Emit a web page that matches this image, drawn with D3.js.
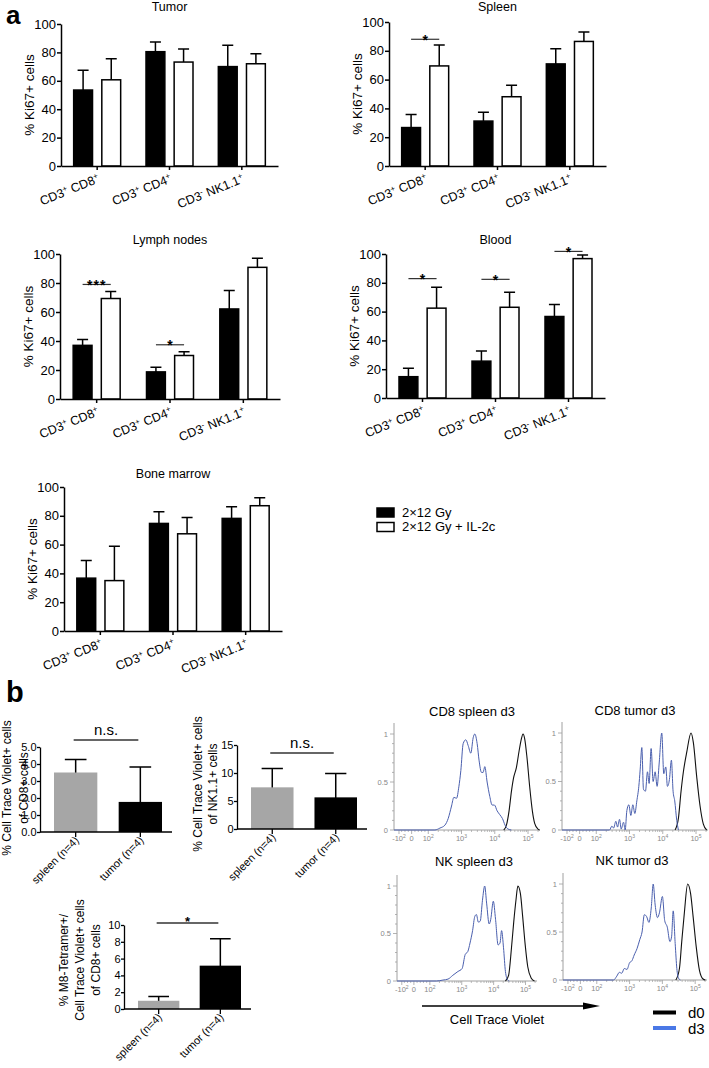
<!DOCTYPE html>
<html>
<head>
<meta charset="utf-8">
<script src="https://cdn.jsdelivr.net/npm/d3@7/dist/d3.min.js"></script>
<style>
html,body{margin:0;padding:0;background:#fff;}
svg{display:block;font-family:"Liberation Sans",Arial,Helvetica,sans-serif;}
</style>
</head>
<body>
<svg id="fig" width="709" height="1068"></svg>
<script>
// ---------------- DATA ----------------
const categories = ["CD3+ CD8+", "CD3+ CD4+", "CD3- NK1.1+"];
const treatments = ["2×12 Gy", "2×12 Gy + IL-2c"];
const ki67Ticks = [0, 20, 40, 60, 80, 100];

const tumorIR = [53.5, 80.5, 70.0];
const tumorIRErr = [14.0, 6.8, 15.0];
const tumorIL2 = [60.7, 73.2, 72.0];
const tumorIL2Err = [14.8, 9.2, 7.0];
const tumorSig = [];

const spleenIR = [26.7, 31.2, 70.9];
const spleenIRErr = [9.1, 6.2, 10.5];
const spleenIL2 = [69.5, 48.1, 86.5];
const spleenIL2Err = [14.5, 7.9, 6.5];
const spleenSig = [[0, 88, "*"]];

const lnIR = [37.0, 18.7, 62.1];
const lnIRErr = [4.1, 3.2, 12.7];
const lnIL2 = [69.3, 30.0, 90.8];
const lnIL2Err = [4.8, 2.6, 6.2];
const lnSig = [[0, 79, "***"], [1, 37.4, "*"]];

const bloodIR = [14.8, 25.6, 56.6];
const bloodIRErr = [5.8, 7.0, 8.3];
const bloodIL2 = [62.4, 63.0, 96.8];
const bloodIL2Err = [14.5, 10.4, 2.5];
const bloodSig = [[0, 82.9, "*"], [1, 82.4, "*"], [2, 101.8, "*"]];

const bmIR = [36.7, 74.7, 78.2];
const bmIRErr = [12.3, 8.1, 8.1];
const bmIL2 = [35.0, 67.5, 87.0];
const bmIL2Err = [23.9, 11.4, 5.6];
const bmSig = [];

const sites = ["spleen (n=4)", "tumor (n=4)"];
const ctvCD8 = [3.5, 1.77];
const ctvCD8Err = [0.76, 2.06];
const ctvCD8Ticks = [0, 1, 2, 3, 4, 5];
const ctvNK = [7.44, 5.65];
const ctvNKErr = [3.36, 4.25];
const ctvNKTicks = [0, 5, 10, 15];
const tetCD8 = [0.98, 5.16];
const tetCD8Err = [0.52, 3.19];
const tetCD8Ticks = [0, 2, 4, 6, 8, 10];

// histograms: [log10 fluorescence, normalized count]
const histTickPos = [1.12, 1.5, 2, 3, 4, 5];
const histTickLabels = ["-10^2", "0", "10^2", "10^3", "10^4", "10^5"];
const histYTicks = [0, 0.5, 1];
const histYLabels = ["0", "0.5", "1"];

const cd8SpleenD3 = [[0.97,0],[2.2,0],[2.35,0.02],[2.5,0.05],[2.6,0.12],[2.7,0.25],[2.77,0.34],[2.85,0.33],[2.92,0.45],[2.98,0.62],[3.05,0.9],[3.13,0.94],[3.2,0.88],[3.28,0.8],[3.35,0.96],[3.4,1.0],[3.47,0.9],[3.53,0.72],[3.6,0.6],[3.65,0.6],[3.7,0.66],[3.77,0.5],[3.85,0.35],[3.92,0.26],[3.99,0.26],[4.07,0.2],[4.15,0.16],[4.23,0.12],[4.31,0.05],[4.4,0.01],[4.5,0]];
const cd8SpleenD0 = [[4.27,0],[4.35,0.05],[4.43,0.2],[4.5,0.4],[4.57,0.55],[4.65,0.65],[4.73,0.82],[4.8,0.95],[4.85,1.0],[4.9,0.95],[4.97,0.75],[5.05,0.45],[5.13,0.2],[5.2,0.07],[5.3,0.01],[5.35,0]];
const cd8TumorD3 = [[0.97,0],[2.4,0],[2.47,0.04],[2.52,0.02],[2.59,0.09],[2.64,0.03],[2.7,0.11],[2.75,0.01],[2.82,0.08],[2.87,0.0],[2.92,0.2],[2.98,0.26],[3.04,0.15],[3.1,0.26],[3.16,0.17],[3.22,0.3],[3.28,0.45],[3.32,0.62],[3.37,0.85],[3.42,0.42],[3.48,0.4],[3.54,0.6],[3.59,0.48],[3.65,0.84],[3.71,0.5],[3.77,0.6],[3.83,0.45],[3.89,0.68],[3.97,1.0],[4.03,0.58],[4.09,0.65],[4.14,0.45],[4.2,0.52],[4.26,0.72],[4.31,0.4],[4.36,0.3],[4.42,0.1],[4.47,0]];
const cd8TumorD0 = [[4.37,0],[4.47,0.12],[4.55,0.4],[4.62,0.6],[4.72,0.8],[4.85,1.0],[4.92,0.9],[5.02,0.55],[5.12,0.25],[5.22,0.06],[5.32,0]];
const nkSpleenD3 = [[0.97,0],[2.21,0],[2.41,0.01],[2.57,0.02],[2.72,0.06],[2.88,0.1],[3.01,0.13],[3.11,0.28],[3.19,0.31],[3.26,0.4],[3.34,0.53],[3.41,0.68],[3.46,0.7],[3.52,0.62],[3.58,0.63],[3.65,0.85],[3.72,1.0],[3.78,0.82],[3.86,0.6],[3.91,0.65],[3.99,0.84],[4.06,0.65],[4.14,0.38],[4.2,0.4],[4.25,0.53],[4.31,0.35],[4.37,0.1],[4.44,0.01],[4.49,0]];
const nkSpleenD0 = [[4.37,0],[4.47,0.06],[4.56,0.35],[4.63,0.62],[4.7,0.85],[4.76,1.0],[4.84,0.92],[4.91,0.68],[4.99,0.38],[5.07,0.15],[5.18,0.03],[5.28,0]];
const nkTumorD3 = [[0.97,0],[2.51,0],[2.61,0.04],[2.69,0.08],[2.76,0.07],[2.84,0.12],[2.92,0.11],[3.0,0.18],[3.07,0.2],[3.14,0.26],[3.23,0.33],[3.31,0.42],[3.38,0.5],[3.45,0.68],[3.52,0.66],[3.59,0.6],[3.66,0.75],[3.72,1.0],[3.78,0.78],[3.85,0.65],[3.91,0.7],[4.0,0.87],[4.07,0.62],[4.15,0.55],[4.23,0.4],[4.28,0.45],[4.33,0.72],[4.39,0.38],[4.44,0.12],[4.49,0.02],[4.55,0]];
const nkTumorD0 = [[4.41,0],[4.52,0.12],[4.59,0.4],[4.67,0.7],[4.77,1.0],[4.86,0.9],[4.94,0.65],[5.03,0.35],[5.13,0.1],[5.24,0.01],[5.31,0]];
const histLegend = ["d0", "d3"];

// ---------------- DRAWING ----------------
const svg = d3.select("#fig");

function addSuperText(textSel, str, supSize, shift) {
  const parts = str.split(/([+\-])/).filter(s => s !== "");
  let up = false;
  parts.forEach(p => {
    if (p === "+" || p === "-") {
      textSel.append("tspan").attr("font-size", supSize).attr("dy", -shift).text(p);
      up = true;
    } else {
      const t = textSel.append("tspan").text(p);
      if (up) { t.attr("dy", shift); up = false; }
    }
  });
}

function styleAxis(g, w, fs, col) {
  g.attr("font-size", fs).attr("font-family", "Liberation Sans, Arial, sans-serif");
  g.select(".domain").attr("stroke", col).attr("stroke-width", w);
  g.selectAll(".tick line").attr("stroke", col).attr("stroke-width", w);
  g.selectAll(".tick text").attr("font-size", fs).attr("fill", "#000");
}

// ---- panel a ----
const kiPanels = [
  {title: "Tumor", ir: tumorIR, irErr: tumorIRErr, il2: tumorIL2, il2Err: tumorIL2Err, sig: tumorSig, x0: 61, x1: 278, y0: 166, y100: 24, ty: 10.5},
  {title: "Spleen", ir: spleenIR, irErr: spleenIRErr, il2: spleenIL2, il2Err: spleenIL2Err, sig: spleenSig, x0: 389, x1: 606, y0: 166, y100: 22, ty: 11},
  {title: "Lymph nodes", ir: lnIR, irErr: lnIRErr, il2: lnIL2, il2Err: lnIL2Err, sig: lnSig, x0: 60, x1: 280, y0: 399, y100: 254, ty: 243.5},
  {title: "Blood", ir: bloodIR, irErr: bloodIRErr, il2: bloodIL2, il2Err: bloodIL2Err, sig: bloodSig, x0: 386, x1: 605, y0: 398, y100: 254, ty: 243.5},
  {title: "Bone marrow", ir: bmIR, irErr: bmIRErr, il2: bmIL2, il2Err: bmIL2Err, sig: bmSig, x0: 64, x1: 282, y0: 631, y100: 487, ty: 477.5}
];

kiPanels.forEach(p => {
  const g = svg.append("g");
  const x = d3.scaleBand().domain(categories).range([p.x0, p.x1]).padding(0);
  const inner = d3.scaleBand().domain([0, 1]).range([-23.5, 23.5]).paddingInner(0.33);
  const y = d3.scaleLinear().domain([0, 100]).range([p.y0, p.y100]);
  const cx = (i, j) => x(categories[i]) + x.bandwidth() / 2 + inner(j) + inner.bandwidth() / 2;

  const series = [
    {vals: p.ir, errs: p.irErr, fill: "#000"},
    {vals: p.il2, errs: p.il2Err, fill: "#fff"}
  ];
  const barData = [];
  series.forEach((s, j) => s.vals.forEach((v, i) => barData.push({i, j, v, e: s.errs[i], fill: s.fill})));

  g.selectAll(".err").data(barData).enter().append("path")
    .attr("d", d => {
      const c = cx(d.i, d.j), top = y(d.v + d.e);
      return `M${c},${y(d.v)}V${top}M${c - 5.5},${top}H${c + 5.5}`;
    })
    .attr("stroke", "#000").attr("stroke-width", 1.5).attr("fill", "none");

  g.selectAll(".bar").data(barData).enter().append("rect")
    .attr("x", d => cx(d.i, d.j) - inner.bandwidth() / 2)
    .attr("width", inner.bandwidth())
    .attr("y", d => y(d.v))
    .attr("height", d => p.y0 - y(d.v))
    .attr("fill", d => d.fill).attr("stroke", "#000").attr("stroke-width", 1.5);

  const ya = g.append("g").attr("transform", `translate(${p.x0},0)`)
    .call(d3.axisLeft(y).tickValues(ki67Ticks).tickSizeInner(4).tickSizeOuter(0).tickPadding(1));
  styleAxis(ya, 1.5, 13, "#000");
  const xa = g.append("g").attr("transform", `translate(0,${p.y0})`)
    .call(d3.axisBottom(x).tickSizeInner(4).tickSizeOuter(0).tickFormat(""));
  styleAxis(xa, 1.5, 13, "#000");

  categories.forEach((c, i) => {
    const tx = x(c) + x.bandwidth() / 2 + 3, ty = p.y0 + 16;
    const t = g.append("text").attr("text-anchor", "end").attr("font-size", 12.5)
      .attr("transform", `translate(${tx},${ty}) rotate(-22)`);
    addSuperText(t, c, 8, 4.5);
  });

  p.sig.forEach(s => {
    const a = cx(s[0], 0), b = cx(s[0], 1), yy = y(s[1]);
    g.append("line").attr("x1", a).attr("x2", b).attr("y1", yy).attr("y2", yy)
      .attr("stroke", "#333").attr("stroke-width", 1.2);
    g.append("text").attr("x", (a + b) / 2).attr("y", yy + 5.5).attr("text-anchor", "middle")
      .attr("font-size", 14).attr("font-weight", "bold").attr("letter-spacing", s[2].length > 1 ? 1 : 0).text(s[2]);
  });

  g.append("text").attr("x", (p.x0 + p.x1) / 2).attr("y", p.ty).attr("text-anchor", "middle")
    .attr("font-size", 12.5).text(p.title);
  g.append("text").attr("transform", `translate(${p.x0 - 27},${(p.y0 + p.y100) / 2}) rotate(-90)`)
    .attr("text-anchor", "middle").attr("font-size", 13.5).text("% Ki67+ cells");
});

// legend panel a
const legFill = ["#000", "#fff"];
treatments.forEach((t, i) => {
  svg.append("rect").attr("x", 377).attr("y", 508 + i * 14.5).attr("width", 17).attr("height", 9)
    .attr("fill", legFill[i]).attr("stroke", "#000").attr("stroke-width", 1.5);
  svg.append("text").attr("x", 402).attr("y", 516.5 + i * 14.5).attr("font-size", 13).text(t);
});

// panel letters
svg.append("text").attr("x", 6).attr("y", 24).attr("font-size", 26).attr("font-weight", "bold").text("a");
svg.append("text").attr("x", 6).attr("y", 702).attr("font-size", 29).attr("font-weight", "bold").text("b");

// ---- panel b bar charts ----
const bPanels = [
  {vals: ctvCD8, errs: ctvCD8Err, ticks: ctvCD8Ticks, x0: 40, x1: 172, y0: 832, yTop: 747,
   sigY: 740, sig: "n.s.", ylab: ["% Cell Trace Violet+ cells", "of CD8+ cells"], ylx: [11, 28], yly: 788},
  {vals: ctvNK, errs: ctvNKErr, ticks: ctvNKTicks, x0: 237, x1: 367, y0: 829, yTop: 745,
   sigY: 753, sig: "n.s.", ylab: ["% Cell Trace Violet+ cells", "of NK1.1+ cells"], ylx: [202, 217], yly: 784},
  {vals: tetCD8, errs: tetCD8Err, ticks: tetCD8Ticks, x0: 124, x1: 251, y0: 1009, yTop: 925,
   sigY: 923, sig: "*", ylab: ["% M8-Tetramer+/", "Cell Trace Violet+ cells", "of CD8+ cells"], ylx: [68, 84, 100], yly: 960}
];
const siteFill = ["#a6a6a6", "#000"];

bPanels.forEach(p => {
  const g = svg.append("g");
  const x = d3.scaleBand().domain(sites).range([p.x0 + 14, p.x1 - 10]).paddingInner(0.33);
  const y = d3.scaleLinear().domain([0, d3.max(p.ticks)]).range([p.y0, p.yTop]);
  const data = p.vals.map((v, i) => ({s: sites[i], v, e: p.errs[i], fill: siteFill[i]}));
  const bw = x.bandwidth();

  g.selectAll(".err").data(data).enter().append("path")
    .attr("d", d => {
      const c = x(d.s) + bw / 2, top = y(d.v + d.e);
      return `M${c},${y(d.v) + 2}V${top}M${c - bw / 4},${top}H${c + bw / 4}`;
    })
    .attr("stroke", "#000").attr("stroke-width", 1.5).attr("fill", "none");
  g.selectAll(".bar").data(data).enter().append("rect")
    .attr("x", d => x(d.s)).attr("width", bw)
    .attr("y", d => y(d.v)).attr("height", d => p.y0 - y(d.v))
    .attr("fill", d => d.fill);

  const ya = g.append("g").attr("transform", `translate(${p.x0},0)`)
    .call(d3.axisLeft(y).tickValues(p.ticks).tickSizeInner(3).tickSizeOuter(0).tickPadding(0.5));
  styleAxis(ya, 1.3, 11, "#000");
  g.append("line").attr("x1", p.x0).attr("x2", p.x1).attr("y1", p.y0).attr("y2", p.y0)
    .attr("stroke", "#000").attr("stroke-width", 1.5);
  sites.forEach(s => {
    const c = x(s) + bw / 2;
    g.append("line").attr("x1", c).attr("x2", c).attr("y1", p.y0).attr("y2", p.y0 + 5)
      .attr("stroke", "#000").attr("stroke-width", 1.3);
    g.append("text").attr("text-anchor", "end").attr("font-size", 11)
      .attr("transform", `translate(${c + 4},${p.y0 + 9}) rotate(-45)`).text(s);
  });

  const a = x(sites[0]) + bw / 2 - 2, b = x(sites[1]) + bw / 2 - 2;
  g.append("line").attr("x1", a).attr("x2", b).attr("y1", p.sigY).attr("y2", p.sigY)
    .attr("stroke", "#333").attr("stroke-width", 1.3);
  if (p.sig === "*") {
    g.append("text").attr("x", (a + b) / 2).attr("y", p.sigY + 3).attr("text-anchor", "middle")
      .attr("font-size", 13).attr("font-weight", "bold").text(p.sig);
  } else {
    g.append("text").attr("x", (a + b) / 2).attr("y", p.sigY - 5).attr("text-anchor", "middle")
      .attr("font-size", 15).text(p.sig);
  }

  p.ylab.forEach((l, k) => {
    g.append("text").attr("transform", `translate(${p.ylx[k]},${p.yly}) rotate(-90)`)
      .attr("text-anchor", "middle").attr("font-size", 12).text(l);
  });
});

// ---- histograms ----
const histDomain = [0.97, 5.36];
const histPanels = [
  {title: "CD8 spleen d3", d3: cd8SpleenD3, d0: cd8SpleenD0, x0: 394, x1: 540, y0: 830, y1: 734, tx: 472, ty: 716},
  {title: "CD8 tumor d3", d3: cd8TumorD3, d0: cd8TumorD0, x0: 562, x1: 708, y0: 830, y1: 733, tx: 635, ty: 715},
  {title: "NK spleen d3", d3: nkSpleenD3, d0: nkSpleenD0, x0: 397, x1: 537, y0: 981, y1: 886, tx: 474, ty: 866},
  {title: "NK tumor d3", d3: nkTumorD3, d0: nkTumorD0, x0: 563, x1: 707, y0: 980, y1: 884, tx: 632, ty: 865}
];
const axisGray = "#a0a0a0";
const blueLine = "#4a5fae";

histPanels.forEach(p => {
  const g = svg.append("g");
  const x = d3.scaleLinear().domain(histDomain).range([p.x0, p.x1]);
  const y = d3.scaleLinear().domain([0, 1]).range([p.y0, p.y1]);

  g.append("line").attr("x1", p.x0).attr("x2", p.x0).attr("y1", p.y0).attr("y2", p.y1 - 11)
    .attr("stroke", axisGray).attr("stroke-width", 1);
  d3.range(0, 1.01, 0.1).forEach(v => {
    const major = histYTicks.some(t => Math.abs(t - v) < 1e-6);
    g.append("line").attr("x1", p.x0 - (major ? 4 : 2)).attr("x2", p.x0)
      .attr("y1", y(v)).attr("y2", y(v)).attr("stroke", axisGray).attr("stroke-width", 0.8);
  });
  histYTicks.forEach((v, k) => {
    g.append("text").attr("x", p.x0 - 6).attr("y", y(v) + 2.5).attr("text-anchor", "end")
      .attr("font-size", 7.5).attr("fill", "#888").text(histYLabels[k]);
  });

  g.append("line").attr("x1", p.x0).attr("x2", p.x1).attr("y1", p.y0).attr("y2", p.y0)
    .attr("stroke", axisGray).attr("stroke-width", 1);
  const minor = [1.2, 1.3, 1.4, 1.6, 1.7, 1.8, 1.9];
  [2, 3, 4, 5].forEach(dd => d3.range(2, 10).forEach(k => { const v = dd + Math.log10(k); if (v < histDomain[1]) minor.push(v); }));
  minor.forEach(v => {
    g.append("line").attr("x1", x(v)).attr("x2", x(v)).attr("y1", p.y0).attr("y2", p.y0 + 2)
      .attr("stroke", axisGray).attr("stroke-width", 0.7);
  });
  histTickPos.forEach((v, k) => {
    g.append("line").attr("x1", x(v)).attr("x2", x(v)).attr("y1", p.y0).attr("y2", p.y0 + 4)
      .attr("stroke", axisGray).attr("stroke-width", 0.8);
    const t = g.append("text").attr("x", x(v)).attr("y", p.y0 + 11).attr("text-anchor", "middle")
      .attr("font-size", 7.5).attr("fill", "#888");
    const parts = histTickLabels[k].split("^");
    t.append("tspan").text(parts[0]);
    if (parts[1]) t.append("tspan").attr("font-size", 5).attr("dy", -3).text(parts[1]);
  });

  const line = d3.line().x(d => x(d[0])).y(d => y(d[1])).curve(d3.curveMonotoneX);
  g.append("path").attr("d", line(p.d0)).attr("fill", "none").attr("stroke", "#111").attr("stroke-width", 1.1);
  g.append("path").attr("d", line(p.d3)).attr("fill", "none").attr("stroke", blueLine).attr("stroke-width", 1);

  g.append("text").attr("x", p.tx).attr("y", p.ty).attr("text-anchor", "middle")
    .attr("font-size", 13).text(p.title);
});

// arrow + axis title
svg.append("line").attr("x1", 422).attr("x2", 585).attr("y1", 1006).attr("y2", 1006)
  .attr("stroke", "#000").attr("stroke-width", 1.6);
svg.append("path").attr("d", "M583,1002.5L600,1006L583,1009.5Z").attr("fill", "#000");
svg.append("text").attr("x", 497).attr("y", 1023.5).attr("text-anchor", "middle").attr("font-size", 13).text("Cell Trace Violet");

// histogram legend
const histLegColors = ["#000", "#4a78e6"];
histLegend.forEach((l, i) => {
  svg.append("line").attr("x1", 653).attr("x2", 676).attr("y1", 1012.5 + i * 15.5).attr("y2", 1012.5 + i * 15.5)
    .attr("stroke", histLegColors[i]).attr("stroke-width", 4);
  svg.append("text").attr("x", 688).attr("y", 1018 + i * 15.5).attr("font-size", 15).text(l);
});
</script>
</body>
</html>
